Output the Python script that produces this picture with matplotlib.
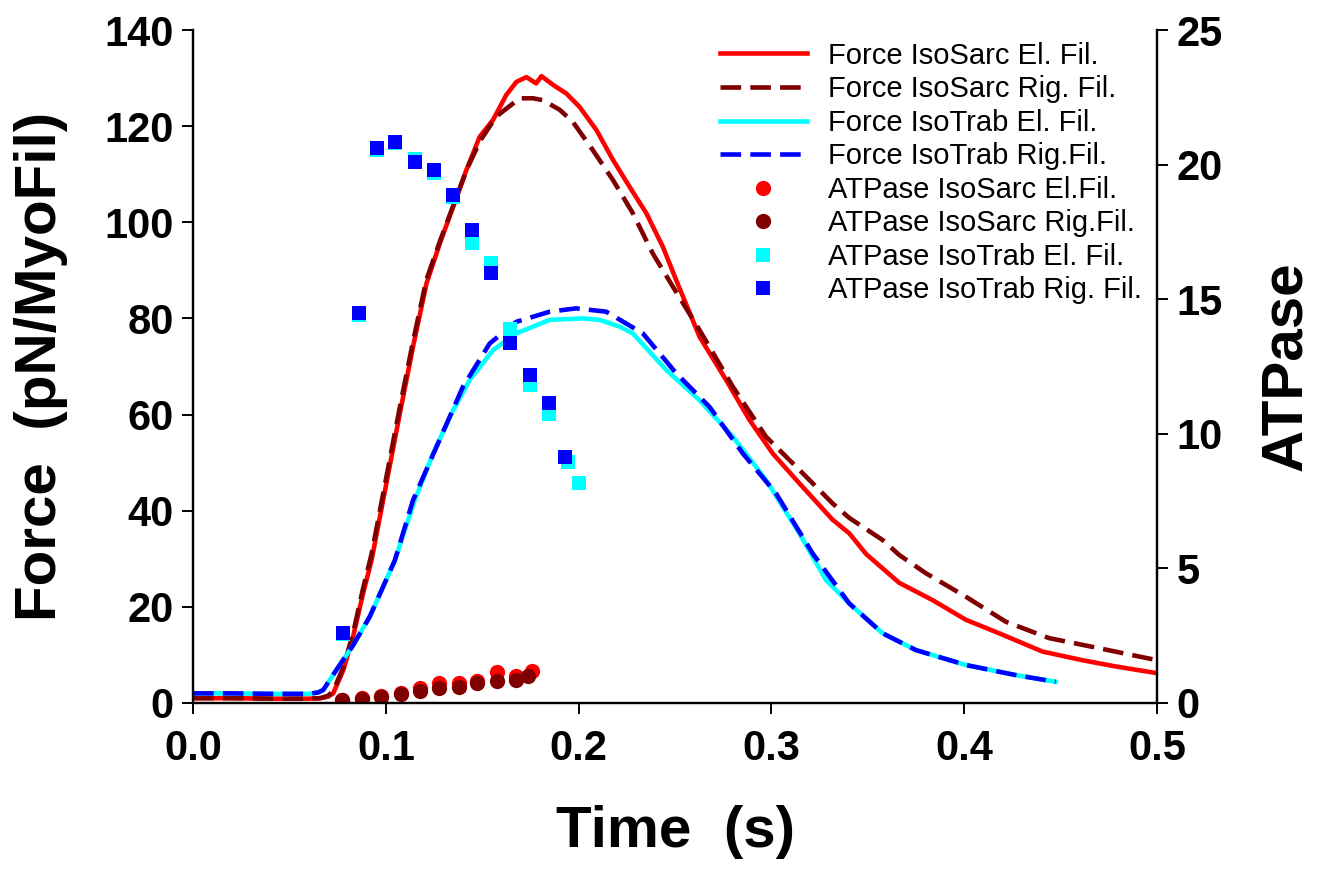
import numpy as np
import matplotlib
matplotlib.use("Agg")
import matplotlib.pyplot as plt

plt.rcParams["font.family"] = ["Liberation Sans", "DejaVu Sans"]

# ── force traces (pN/MyoFil) ────────────────────────────────────────────────
t_sarc_el = [0.0, 0.02, 0.04, 0.06, 0.066, 0.070, 0.0727, 0.078, 0.083, 0.0882,
             0.0926, 0.0986, 0.1073, 0.1141, 0.1211, 0.128, 0.1349, 0.1418,
             0.1487, 0.1556, 0.1625, 0.1677, 0.1729, 0.178, 0.1807, 0.1867,
             0.1936, 0.2005, 0.2092, 0.2178, 0.2264, 0.2351, 0.2437, 0.2506,
             0.2627, 0.2765, 0.2886, 0.3007, 0.3145, 0.3318, 0.3404, 0.3491,
             0.3663, 0.3836, 0.4009, 0.4181, 0.4406, 0.4613, 0.4786, 0.5]
f_sarc_el = [1.0, 1.0, 0.9, 0.9, 1.0, 1.3, 2.0, 6.9, 13.8, 22.8,
             29.7, 42.2, 60.3, 74.1, 87.3, 95.6, 103.2, 110.9,
             117.8, 121.3, 126.5, 129.2, 130.2, 128.9, 130.4, 128.6,
             126.8, 124.0, 119.2, 113.0, 107.4, 101.9, 94.9, 88.0,
             76.2, 67.2, 58.9, 51.9, 45.7, 38.1, 35.3, 31.0,
             25.0, 21.4, 17.3, 14.5, 10.7, 8.9, 7.6, 6.2]

t_sarc_rig = [0.0, 0.02, 0.04, 0.06, 0.066, 0.070, 0.0727, 0.078, 0.083, 0.088,
              0.0926, 0.0986, 0.107, 0.114, 0.121, 0.128, 0.135, 0.142, 0.149,
              0.1573, 0.1694, 0.1763, 0.1815, 0.1902, 0.197, 0.2074, 0.2178,
              0.2281, 0.2385, 0.2489, 0.2627, 0.28, 0.2972, 0.3145, 0.3318,
              0.3404, 0.3577, 0.3663, 0.3801, 0.4009, 0.4216, 0.444, 0.4699, 0.5]
f_sarc_rig = [1.0, 1.0, 0.9, 0.9, 1.0, 1.5, 2.5, 7.5, 14.5, 23.5,
              31.0, 43.5, 61.0, 75.0, 88.0, 96.0, 103.5, 111.0, 117.0,
              122.0, 125.8, 125.8, 125.4, 123.4, 120.9, 115.0, 108.8,
              101.9, 93.5, 86.6, 77.6, 65.8, 55.4, 48.5, 41.5,
              38.5, 33.9, 30.8, 27.0, 22.1, 16.9, 13.5, 11.4, 8.9]

t_trab_el = [0.0, 0.02, 0.04, 0.06, 0.065, 0.0675, 0.0744, 0.083, 0.0917, 0.0986,
             0.1047, 0.115, 0.1245, 0.1349, 0.1435, 0.1556, 0.1677, 0.185,
             0.2022, 0.2109, 0.2212, 0.2281, 0.2454, 0.2627, 0.28, 0.2972,
             0.3145, 0.3283, 0.3404, 0.3577, 0.375, 0.4009, 0.4268, 0.4475]
f_trab_el = [2.0, 2.0, 1.9, 1.9, 2.2, 2.7, 6.9, 12.0, 18.0, 24.2,
             29.7, 42.2, 51.9, 60.9, 67.2, 73.4, 76.9, 79.7,
             80.0, 79.7, 78.3, 76.9, 69.3, 63.0, 55.4, 46.4,
             35.3, 25.6, 20.7, 14.5, 11.0, 7.9, 5.8, 4.4]

t_trab_rig = [0.0, 0.02, 0.04, 0.06, 0.065, 0.0675, 0.0744, 0.083, 0.0917, 0.0986,
              0.1047, 0.1141, 0.1263, 0.14, 0.1539, 0.1677, 0.185, 0.1988,
              0.2143, 0.2333, 0.2506, 0.2679, 0.2852, 0.3024, 0.3214, 0.3404,
              0.3577, 0.375, 0.4009, 0.4268, 0.4475]
f_trab_rig = [2.0, 2.0, 1.9, 1.9, 2.2, 2.7, 6.9, 12.0, 18.0, 24.2,
              29.7, 42.2, 53.3, 65.8, 74.8, 79.3, 81.4, 82.1,
              81.4, 76.9, 68.6, 61.6, 51.9, 43.6, 31.1, 20.7,
              14.5, 11.0, 7.9, 5.8, 4.4]

# ── ATPase points ───────────────────────────────────────────────────────────
ta_sarc_el = [0.0774, 0.0877, 0.0977, 0.1078, 0.1176, 0.1276, 0.1377, 0.1475, 0.1577, 0.1677, 0.1758]
a_sarc_el = [0.12, 0.17, 0.27, 0.37, 0.55, 0.73, 0.76, 0.80, 1.14, 1.00, 1.20]
ta_sarc_rig = [0.0774, 0.0877, 0.0977, 0.1078, 0.1176, 0.1276, 0.1377, 0.1475, 0.1577, 0.1677, 0.1737]
a_sarc_rig = [0.11, 0.15, 0.23, 0.32, 0.46, 0.55, 0.61, 0.74, 0.83, 0.85, 1.00]
ta_trab_el = [0.0776, 0.0859, 0.0952, 0.1048, 0.1149, 0.1249, 0.1349, 0.1447, 0.1544, 0.1646, 0.1746, 0.1846, 0.1943, 0.2001]
a_trab_el = [2.55, 14.4, 20.55, 20.8, 20.2, 19.7, 18.8, 17.08, 16.36, 13.88, 11.81, 10.74, 8.96, 8.16]
ta_trab_rig = [0.0776, 0.0859, 0.0952, 0.1048, 0.1149, 0.1249, 0.1349, 0.1447, 0.1544, 0.1646, 0.1746, 0.1846, 0.1927]
a_trab_rig = [2.61, 14.5, 20.6, 20.85, 20.1, 19.8, 18.87, 17.57, 15.96, 13.38, 12.18, 11.13, 9.13]

x_ticks = [0.0, 0.1, 0.2, 0.3, 0.4, 0.5]
y_ticks = [0, 20, 40, 60, 80, 100, 120, 140]
y2_ticks = [0, 5, 10, 15, 20, 25]

RED, DRED, CYAN, BLUE = "#ff0000", "#800000", "#00ffff", "#0000ff"
DASH = (4.5, 2.0)
LW = 3.3

fig = plt.figure(figsize=(13.26, 8.75), dpi=100)
ax = fig.add_axes([0.1456, 0.1966, 0.7269, 0.7691])
ax2 = ax.twinx()

h1, = ax.plot(t_sarc_el, f_sarc_el, color=RED, lw=LW, label="Force IsoSarc El. Fil.")
h2, = ax.plot(t_sarc_rig, f_sarc_rig, color=DRED, lw=LW, dashes=DASH, label="Force IsoSarc Rig. Fil.")
h3, = ax.plot(t_trab_el, f_trab_el, color=CYAN, lw=LW, label="Force IsoTrab El. Fil.")
h4, = ax.plot(t_trab_rig, f_trab_rig, color=BLUE, lw=LW, dashes=DASH, label="Force IsoTrab Rig.Fil.")

h5, = ax2.plot(ta_sarc_el, a_sarc_el, "o", color=RED, ms=11, mew=0, label="ATPase IsoSarc El.Fil.")
h6, = ax2.plot(ta_sarc_rig, a_sarc_rig, "o", color=DRED, ms=11, mew=0, label="ATPase IsoSarc Rig.Fil.")
h7, = ax2.plot(ta_trab_el, a_trab_el, "s", color=CYAN, ms=10, mew=0, label="ATPase IsoTrab El. Fil.")
h8, = ax2.plot(ta_trab_rig, a_trab_rig, "s", color=BLUE, ms=10, mew=0, label="ATPase IsoTrab Rig. Fil.")

ax.set_xlim(0, 0.5)
ax.set_ylim(0, 140)
ax2.set_ylim(0, 25)
ax.set_xticks(x_ticks)
ax.set_xticklabels([f"{v:.1f}" for v in x_ticks])
ax.set_yticks(y_ticks)
ax2.set_yticks(y2_ticks)

for a in (ax, ax2):
    a.spines["top"].set_visible(False)
    for s in a.spines.values():
        s.set_linewidth(1.6)
    a.tick_params(direction="out", length=8, width=1.4, labelsize=30, pad=6)
    for lbl in a.get_xticklabels() + a.get_yticklabels():
        lbl.set_fontweight("bold")
ax.tick_params(axis="x", pad=11)

ax.set_xlabel("Time  (s)", fontsize=42, fontweight="bold", labelpad=26)
ax.set_ylabel("Force  (pN/MyoFil)", fontsize=42, fontweight="bold", labelpad=26)
ax2.set_ylabel("ATPase", fontsize=42, fontweight="bold", labelpad=26)

ax2.legend(handles=[h1, h2, h3, h4, h5, h6, h7, h8], loc="upper right",
           bbox_to_anchor=(0.996, 1.0), frameon=False, fontsize=21,
           handlelength=3.0, handletextpad=0.7, labelspacing=0.19,
           borderaxespad=0.0)

fig.savefig("out.png", dpi=100)
